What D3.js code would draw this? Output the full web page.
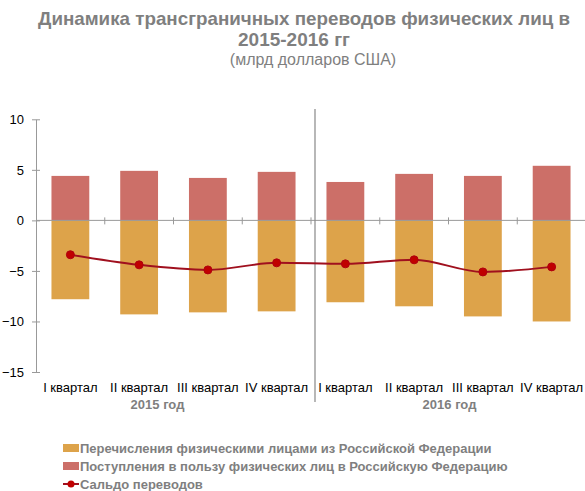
<!DOCTYPE html>
<html>
<head>
<meta charset="utf-8">
<script src="https://cdn.jsdelivr.net/npm/d3@7"></script>
<style>
  body { margin: 0; background: #fff; }
  svg { font-family: "Liberation Sans", Arial, sans-serif; }
</style>
</head>
<body>
<div id="chart"></div>
<script>
// quarters repeat for both years
const quarters = ["I квартал", "II квартал", "III квартал", "IV квартал"];
const years = ["2015 год", "2016 год"];
const outflows = [-7.8, -9.3, -9.1, -9.0, -8.1, -8.5, -9.5, -10.0]; // перечисления
const inflows = [4.4, 4.9, 4.2, 4.8, 3.8, 4.6, 4.4, 5.4]; // поступления
const balance = [-3.4, -4.4, -4.9, -4.2, -4.3, -3.9, -5.1, -4.6]; // сальдо
const yTicks = [10, 5, 0, -5, -10, -15];
const legendNames = [
  "Перечисления физическими лицами из Российской Федерации",
  "Поступления в пользу физических лиц в Российскую Федерацию",
  "Сальдо переводов"
];

const width = 585, height = 491;
const colOut = "#DDA34A", colIn = "#CC6F68", colLine = "#A0101E", colDot = "#C00000";

const keys = [];
years.forEach((y, yi) => quarters.forEach((q, qi) => keys.push(yi * 4 + qi)));

const svg = d3.select("#chart").append("svg")
  .attr("width", width)
  .attr("height", height);

// title
svg.append("text")
  .attr("x", 304).attr("y", 25)
  .attr("text-anchor", "middle")
  .attr("textLength", 532).attr("lengthAdjust", "spacingAndGlyphs")
  .style("font-size", "19px").style("font-weight", "bold").style("fill", "#7f7f7f")
  .text("Динамика трансграничных переводов физических лиц в");
svg.append("text")
  .attr("x", 294).attr("y", 46)
  .attr("text-anchor", "middle")
  .style("font-size", "19px").style("font-weight", "bold").style("fill", "#7f7f7f")
  .text("2015-2016 гг");
svg.append("text")
  .attr("x", 313).attr("y", 65)
  .attr("text-anchor", "middle")
  .style("font-size", "16px").style("fill", "#7f7f7f")
  .text("(млрд долларов США)");

const x = d3.scaleBand().domain(keys).range([36, 586])
  .paddingInner(0.45).paddingOuter(0.225);
const y = d3.scaleLinear().domain([-15, 10]).range([372, 119.3]);

// bars
svg.append("g").selectAll("rect.out")
  .data(keys).enter().append("rect")
  .attr("x", d => x(d))
  .attr("width", x.bandwidth())
  .attr("y", y(0))
  .attr("height", d => y(outflows[d]) - y(0))
  .attr("fill", colOut);

svg.append("g").selectAll("rect.in")
  .data(keys).enter().append("rect")
  .attr("x", d => x(d))
  .attr("width", x.bandwidth())
  .attr("y", d => y(inflows[d]))
  .attr("height", d => y(0) - y(inflows[d]))
  .attr("fill", colIn);

// y axis
const yAxis = d3.axisLeft(y).tickValues(yTicks).tickSizeInner(4).tickSizeOuter(0).tickPadding(8);
const ya = svg.append("g").attr("transform", "translate(36,0)").call(yAxis);
ya.select(".domain").attr("stroke", "#999");
ya.selectAll(".tick line").attr("stroke", "#999").attr("x2", 4).attr("x1", -4);
ya.selectAll(".tick text").style("font-size", "13px").style("fill", "#000")
  .style("font-family", "'Liberation Sans', Arial, sans-serif");

// zero line with category ticks
svg.append("line")
  .attr("x1", 36).attr("x2", 586)
  .attr("y1", y(0)).attr("y2", y(0))
  .attr("stroke", "#999");
const step = x.step();
svg.append("g").selectAll("line")
  .data(d3.range(1, keys.length)).enter().append("line")
  .attr("x1", i => 36 + i * step).attr("x2", i => 36 + i * step)
  .attr("y1", y(0) - 3).attr("y2", y(0) + 4)
  .attr("stroke", "#999");

// year separator
const sep = 36 + 4 * step + 4;
svg.append("line")
  .attr("x1", sep).attr("x2", sep)
  .attr("y1", 109).attr("y2", 402)
  .attr("stroke", "#888").attr("stroke-width", 1.2);

// balance line
const line = d3.line()
  .x(d => x(d) + x.bandwidth() / 2)
  .y(d => y(balance[d]))
  .curve(d3.curveMonotoneX);
svg.append("path")
  .datum(keys)
  .attr("d", line)
  .attr("fill", "none")
  .attr("stroke", colLine)
  .attr("stroke-width", 2);
svg.append("g").selectAll("circle")
  .data(keys).enter().append("circle")
  .attr("cx", d => x(d) + x.bandwidth() / 2)
  .attr("cy", d => y(balance[d]))
  .attr("r", 4)
  .attr("fill", colDot)
  .attr("stroke", "#B00010").attr("stroke-width", 1);

// category labels
svg.append("g").selectAll("text")
  .data(keys).enter().append("text")
  .attr("x", d => x(d) + x.bandwidth() / 2)
  .attr("y", 392)
  .attr("text-anchor", "middle")
  .style("font-size", "13px").style("fill", "#000")
  .text(d => quarters[d % 4]);

// year labels
const yearX = [(0 + sep) / 2, (sep + 586) / 2 - 1];
svg.append("g").selectAll("text")
  .data(years).enter().append("text")
  .attr("x", (d, i) => yearX[i])
  .attr("y", 409)
  .attr("text-anchor", "middle")
  .style("font-size", "13px").style("font-weight", "bold").style("fill", "#7f7f7f")
  .text(d => d);

// legend
const lg = svg.append("g").attr("transform", "translate(63,0)");
const rowsY = [448, 466, 484];
lg.append("rect").attr("x", 0).attr("y", rowsY[0] - 4).attr("width", 16).attr("height", 8).attr("fill", colOut);
lg.append("rect").attr("x", 0).attr("y", rowsY[1] - 4).attr("width", 16).attr("height", 8).attr("fill", colIn);
lg.append("line").attr("x1", 0).attr("x2", 16).attr("y1", rowsY[2]).attr("y2", rowsY[2])
  .attr("stroke", colLine).attr("stroke-width", 2);
lg.append("circle").attr("cx", 8).attr("cy", rowsY[2]).attr("r", 3.5).attr("fill", colDot);
lg.selectAll("text")
  .data(legendNames).enter().append("text")
  .attr("x", 17)
  .attr("y", (d, i) => rowsY[i] + 4.5)
  .style("font-size", "13px").style("font-weight", "bold").style("fill", "#7f7f7f")
  .text(d => d);
</script>
</body>
</html>
